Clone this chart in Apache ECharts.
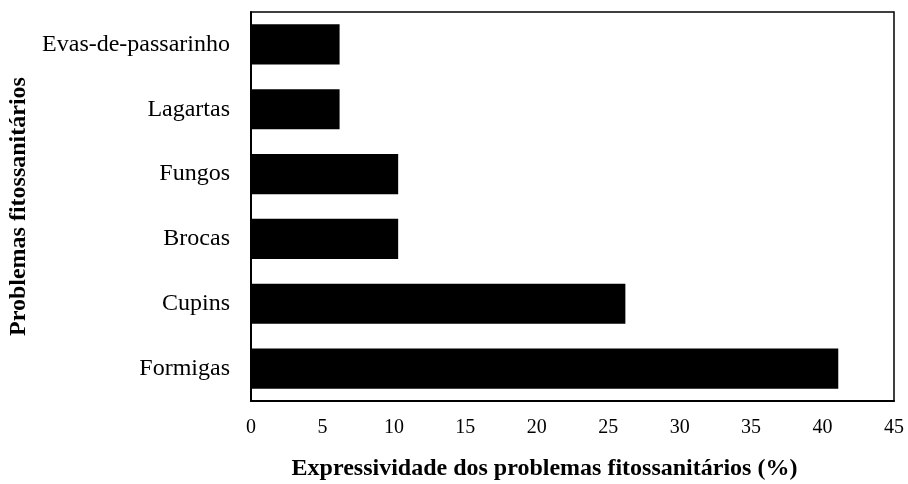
<!DOCTYPE html>
<html>
<head>
<meta charset="utf-8">
<script src="https://cdn.jsdelivr.net/npm/echarts@6/dist/echarts.min.js"></script>
<style>
  html, body { margin: 0; padding: 0; background: #fff; }
  #chart { width: 908px; height: 484px; }
</style>
</head>
<body>
<div id="chart"></div>
<script>
// categories, bottom to top
const categories = ['Formigas', 'Cupins', 'Brocas', 'Fungos', 'Lagartas', 'Evas-de-passarinho'];
const values = [41.1, 26.2, 10.3, 10.3, 6.2, 6.2];
const xTicks = [0, 5, 10, 15, 20, 25, 30, 35, 40, 45];

const serif = 'Liberation Serif, Times New Roman, serif';
const chart = echarts.init(document.getElementById('chart'));

chart.setOption({
  animation: false,
  grid: {
    left: 251, right: 14, top: 12, bottom: 83,
    outerBoundsMode: 'none',
    show: true, borderColor: '#000', borderWidth: 1.5
  },
  xAxis: {
    type: 'value',
    min: xTicks[0],
    max: xTicks[xTicks.length - 1],
    interval: 5,
    name: 'Expressividade dos problemas fitossanitários (%)',
    nameLocation: 'middle',
    nameGap: 56,
    nameTextStyle: {
      fontFamily: serif, fontWeight: 'bold', fontSize: 24, color: '#000',
      padding: [0, 56, 0, 0]
    },
    axisLine: { show: true, lineStyle: { color: '#000', width: 2 } },
    axisTick: { show: false },
    splitLine: { show: false },
    axisLabel: { fontFamily: serif, fontSize: 20, color: '#000', margin: 17 }
  },
  yAxis: {
    type: 'category',
    data: categories,
    name: 'Problemas fitossanitários',
    nameLocation: 'middle',
    nameRotate: 90,
    nameGap: 218,
    nameTextStyle: { fontFamily: serif, fontWeight: 'bold', fontSize: 24, color: '#000' },
    axisLine: { show: true, lineStyle: { color: '#000', width: 2 } },
    axisTick: { show: false },
    axisLabel: { fontFamily: serif, fontSize: 24, color: '#000', margin: 21 }
  },
  series: [{
    type: 'bar',
    data: values,
    barCategoryGap: '38%',
    itemStyle: { color: '#000' }
  }]
});
</script>
</body>
</html>
